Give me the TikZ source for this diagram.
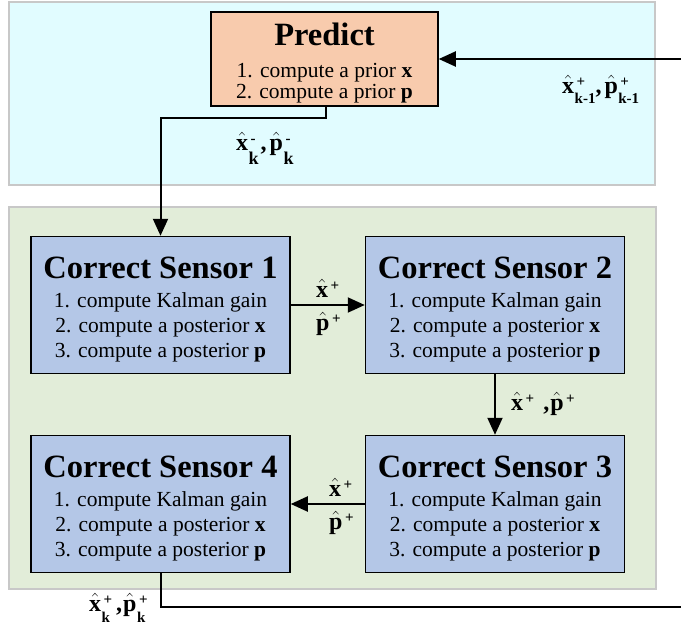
\documentclass[tikz,border=0pt]{standalone}
\usepackage{amsmath}
\usepackage{fontspec}
\setmainfont{Liberation Serif}
\usetikzlibrary{arrows.meta}
\definecolor{predictzone}{HTML}{E1FCFF}
\definecolor{correctzone}{HTML}{E2EDD9}
\definecolor{zoneedge}{HTML}{C8C8C8}
\definecolor{predictfill}{HTML}{F8CBAD}
\definecolor{sensorfill}{HTML}{B4C7E7}
% bold state symbol with hat, a raised mark and a lowered index:
% #1 letter, #2 mark, #3 index, #4 index drop, #5 index size
\newcommand{\bt}[1]{\text{\bfseries #1}}
\newcommand{\sv}[5]{%
  \mbox{$\hat{\bt{#1}}$}%
  \mbox{\fontsize{15}{15}\selectfont
    \setbox0\hbox{\raisebox{6.5pt}{\kern2.5pt#2}}%
    \setbox2\hbox{\fontsize{#5}{#5}\selectfont\bfseries\raisebox{-#4}{\kern0.5pt#3}}%
    \ifdim\wd0>\wd2 \rlap{\box2}\box0 \else\rlap{\box0}\box2 \fi}}
\newcommand{\titlesize}{\fontsize{32.5}{34}\selectfont\bfseries}
\begin{document}
\begin{tikzpicture}[x=1pt,y=-1pt,
  zone/.style={draw=zoneedge,line width=1.5pt},
  boxbase/.style={draw=black,line width=1.5pt,inner sep=0pt,align=center,
    font=\fontsize{21.5}{25}\selectfont},
  predictbox/.style={boxbase,fill=predictfill,minimum width=227pt,minimum height=94pt},
  sensorbox/.style={boxbase,fill=sensorfill,minimum width=259pt,minimum height=137pt},
  conn/.style={line width=2pt},
  flow/.style={conn,-{Triangle[length=17pt,width=15pt]}},
  lbl/.style={inner sep=0pt,anchor=base west,font=\fontsize{24}{26}\selectfont\bfseries}]
\useasboundingbox (0,0) rectangle (681,641);
\fill[white] (0,0) rectangle (681,641);

% background zones
\draw[zone,fill=predictzone] (9,2) rectangle (655,185);
\draw[zone,fill=correctzone] (9,207) rectangle (656,589);

% process boxes
\node[predictbox] (predict) at (324.5,59)
  {{\titlesize\rule{0pt}{31pt}Predict}\\[7pt] 1. compute a prior \textbf{x}\\[-4pt] 2. compute a prior \textbf{p}};
\node[sensorbox] (s1) at (160.5,305)
  {{\titlesize\rule{0pt}{31pt}Correct Sensor 1}\\[4pt] 1. compute Kalman gain\\ 2. compute a posterior \textbf{x}\\ 3. compute a posterior \textbf{p}};
\node[sensorbox] (s2) at (495,305)
  {{\titlesize\rule{0pt}{31pt}Correct Sensor 2}\\[4pt] 1. compute Kalman gain\\ 2. compute a posterior \textbf{x}\\ 3. compute a posterior \textbf{p}};
\node[sensorbox] (s3) at (495,504)
  {{\titlesize\rule{0pt}{31pt}Correct Sensor 3}\\[4pt] 1. compute Kalman gain\\ 2. compute a posterior \textbf{x}\\ 3. compute a posterior \textbf{p}};
\node[sensorbox] (s4) at (160.5,504)
  {{\titlesize\rule{0pt}{31pt}Correct Sensor 4}\\[4pt] 1. compute Kalman gain\\ 2. compute a posterior \textbf{x}\\ 3. compute a posterior \textbf{p}};

% free ends of the loop
\coordinate (inR) at (681,59);
\coordinate (outR) at (681,607);

% connectors
\draw[flow] (inR) -- (predict.east);
\draw[flow] ([xshift=1.5pt]predict.south) -- ++(0,11) -| (s1.north);
\draw[flow] (s1) -- (s2);
\draw[flow] (s2) -- (s3);
\draw[flow] (s3) -- (s4);
\draw[conn] (s4.south) |- (outR);

% state labels
\node[lbl] (lin) at (562,93) {\sv{x}{+}{k-1}{10pt}{15},\kern3pt\sv{p}{+}{k-1}{10pt}{15}};
\node[lbl] (lpred) at (236,150) {\sv{x}{-}{k}{14pt}{18}\kern2pt,\kern3pt\sv{p}{-}{k}{14pt}{18}};
\node[lbl] (l12a) at (316,297) {\sv{x}{+}{}{0pt}{15}};
\node[lbl] (l12b) at (316,330) {\sv{p}{+}{}{0pt}{15}};
\node[lbl] (l23) at (511,410) {\sv{x}{+}{}{0pt}{15}\kern9pt,\kern1pt\sv{p}{+}{}{0pt}{15}};
\node[lbl] (l34a) at (329,496) {\sv{x}{+}{}{0pt}{15}};
\node[lbl] (l34b) at (329,529) {\sv{p}{+}{}{0pt}{15}};
\node[lbl] (lout) at (89,611) {\sv{x}{+}{k}{11pt}{15}\kern4pt,\kern1pt\sv{p}{+}{k}{11pt}{15}};
\end{tikzpicture}
\end{document}
